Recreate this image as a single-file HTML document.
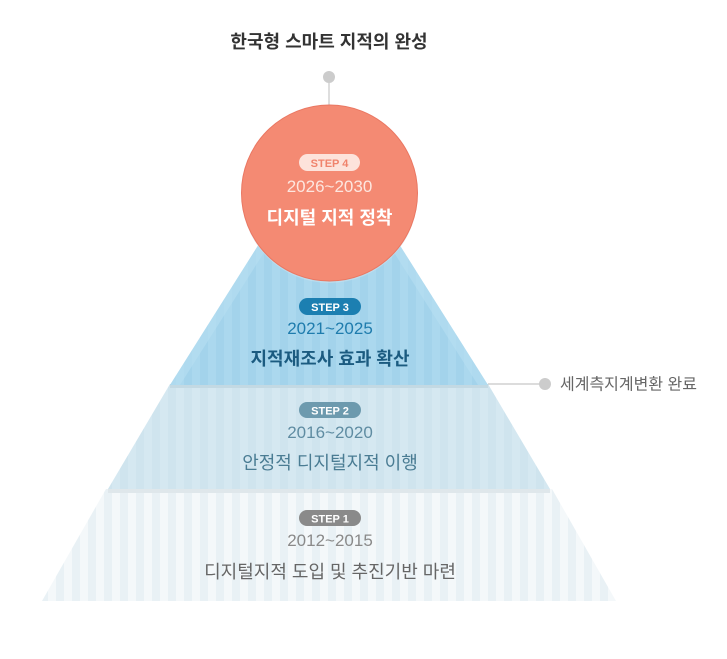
<!DOCTYPE html>
<html><head><meta charset="utf-8"><style>
html,body{margin:0;padding:0;background:#fff;}
svg{display:block;}
text{font-family:"Liberation Sans","Noto Sans CJK KR",sans-serif;}
</style></head><body>
<svg width="727" height="659" viewBox="0 0 727 659" xmlns="http://www.w3.org/2000/svg">
<defs>
<pattern id="s1" width="16" height="10" patternUnits="userSpaceOnUse"><rect width="16" height="10" fill="#e9f1f5"/><rect width="8" height="10" fill="#f4f8fa"/></pattern>
<pattern id="s2" width="16" height="10" patternUnits="userSpaceOnUse"><rect width="16" height="10" fill="#cfe4ee"/><rect width="8" height="10" fill="#d5e8f1"/></pattern>
<pattern id="s3" width="16" height="10" patternUnits="userSpaceOnUse"><rect width="16" height="10" fill="#a3d3eb"/><rect width="8" height="10" fill="#abd8ee"/></pattern>
</defs>
<text x="329" y="48" text-anchor="middle" font-size="18" font-weight="bold" fill="#333">한국형 스마트 지적의 완성</text>
<line x1="329" y1="77" x2="329" y2="106" stroke="#c8c8c8" stroke-width="1.2"/>
<circle cx="329" cy="77" r="6" fill="#cccccc"/>
<!-- step1 -->
<polygon points="106,489 552,489 616,601 42,601" fill="url(#s1)"/>
<rect x="108" y="489" width="442" height="4" fill="#dfe7eb"/>
<!-- step2 -->
<polygon points="170,384 488,384 550,489 108,489" fill="url(#s2)"/>
<rect x="170" y="384" width="318" height="4" fill="#c3d9e3"/>
<!-- step3 -->
<polygon points="329,133 488,385 170,385" fill="url(#s3)"/>
<polygon points="329,133 488,385 478,385 329,150 180,385 170,385" fill="#b8e0f2" opacity="0.6"/>
<!-- right connector -->
<line x1="488" y1="384" x2="545" y2="384" stroke="#c8c8c8" stroke-width="1.2"/>
<circle cx="545" cy="384" r="6" fill="#cccccc"/>
<text x="560" y="389.5" font-size="16" fill="#666">세계측지계변환 완료</text>
<!-- circle -->
<circle cx="329.5" cy="195" r="88" fill="#cfe4ee" opacity="0.5"/>
<circle cx="329.5" cy="193" r="88" fill="#f48a73" stroke="#ea7762" stroke-width="1"/>
<!-- step4 text -->
<rect x="299" y="154" width="61" height="17" rx="8.5" fill="#fde3db"/>
<text x="329.5" y="167" text-anchor="middle" font-size="11" font-weight="bold" fill="#f0836c">STEP 4</text>
<text x="329.5" y="192" text-anchor="middle" font-size="17" fill="#fde6df">2026~2030</text>
<text x="329.5" y="224" text-anchor="middle" font-size="18" font-weight="bold" fill="#fff">디지털 지적 정착</text>
<!-- step3 text -->
<rect x="299" y="298" width="62" height="17" rx="8.5" fill="#1c7fb1"/>
<text x="330" y="311" text-anchor="middle" font-size="11" font-weight="bold" fill="#fff">STEP 3</text>
<text x="330" y="334" text-anchor="middle" font-size="17" fill="#1f7cad">2021~2025</text>
<text x="330" y="365" text-anchor="middle" font-size="18" font-weight="bold" fill="#1b5b80">지적재조사 효과 확산</text>
<!-- step2 text -->
<rect x="299" y="402" width="62" height="16" rx="8" fill="#6d9aae"/>
<text x="330" y="414.5" text-anchor="middle" font-size="11" font-weight="bold" fill="#fff">STEP 2</text>
<text x="330" y="438" text-anchor="middle" font-size="17" fill="#5f8ca2">2016~2020</text>
<text x="330" y="469" text-anchor="middle" font-size="18" fill="#4a7c93">안정적 디지털지적 이행</text>
<!-- step1 text -->
<rect x="299" y="510" width="62" height="16" rx="8" fill="#8a8a8a"/>
<text x="330" y="522.5" text-anchor="middle" font-size="11" font-weight="bold" fill="#fff">STEP 1</text>
<text x="330" y="546" text-anchor="middle" font-size="17" fill="#8a8a8a">2012~2015</text>
<text x="330" y="578" text-anchor="middle" font-size="18" fill="#666">디지털지적 도입 및 추진기반 마련</text>
</svg>
</body></html>
